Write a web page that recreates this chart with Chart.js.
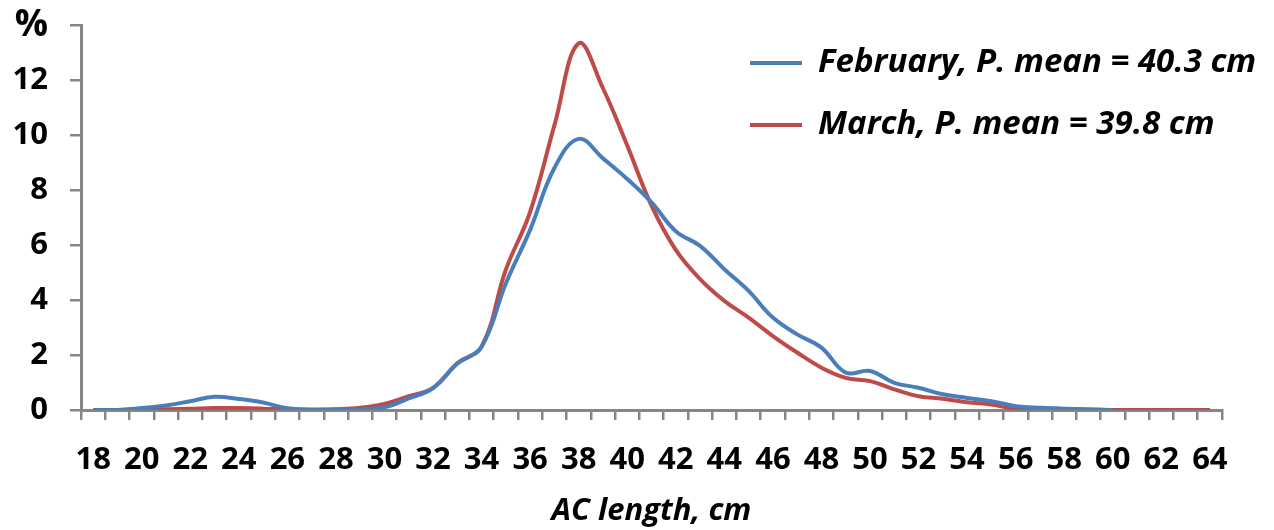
<!DOCTYPE html>
<html>
<head>
<meta charset="utf-8">
<title>AC length distribution</title>
<script src="https://cdn.jsdelivr.net/npm/chart.js@4"></script>
<style>
    html, body { margin: 0; padding: 0; background: #fff; }
    #wrap { position: relative; width: 1274px; height: 530px; }
</style>
</head>
<body>
<div id="wrap"><canvas id="lengthChart" width="1274" height="530"></canvas></div>
<script>
// AC length classes, cm
const lengths = [18, 19, 20, 21, 22, 23, 24, 25, 26, 27, 28, 29, 30, 31, 32, 33, 34, 35, 36, 37, 38, 39, 40,
    41, 42, 43, 44, 45, 46, 47, 48, 49, 50, 51, 52, 53, 54, 55, 56, 57, 58, 59, 60, 61, 62, 63, 64];

// % of catch per length class (null = no data)
const february = [0, 0, 0.07, 0.16, 0.32, 0.48, 0.4, 0.27, 0.06, 0, 0.02, 0.03, 0.1, 0.42, 0.8, 1.68, 2.3,
    4.6, 6.55, 8.8, 9.86, 9.15, 8.4, 7.55, 6.5, 5.97, 5.12, 4.33, 3.36, 2.75, 2.27, 1.36, 1.42, 0.99, 0.81,
    0.57, 0.44, 0.32, 0.14, 0.08, 0.05, 0.02, 0, null, null, null, null];
const march = [null, 0, 0.02, 0.03, 0.05, 0.07, 0.07, 0.05, 0.02, 0.02, 0.03, 0.08, 0.22, 0.5, 0.8, 1.7, 2.3,
    5.1, 7.2, 10.35, 13.33, 11.7, 9.62, 7.43, 5.82, 4.76, 3.97, 3.36, 2.69, 2.09, 1.54, 1.17, 1.05, 0.75, 0.5,
    0.41, 0.28, 0.2, 0.04, 0.03, 0.03, 0.02, 0, 0, 0, 0, 0];

// x labels shown every 2 cm
const xTickLabels = [18, 20, 22, 24, 26, 28, 30, 32, 34, 36, 38, 40, 42, 44, 46, 48, 50, 52, 54, 56, 58, 60, 62, 64];
const seriesNames = ['February, P. mean = 40.3 cm', 'March, P. mean = 39.8 cm'];

const axisGrey = '#868686';
const fontFamily = '"Open Sans", "DejaVu Sans", sans-serif';

// Legend drawn inside the plot, top right
const insideLegend = {
    id: 'insideLegend',
    afterDraw(chart) {
        const ctx = chart.ctx;
        const rows = [63, 125];
        ctx.save();
        chart.data.datasets.forEach((ds, i) => {
            const y = rows[i];
            ctx.strokeStyle = ds.borderColor;
            ctx.lineWidth = 4;
            ctx.beginPath();
            ctx.moveTo(750, y);
            ctx.lineTo(802, y);
            ctx.stroke();
            ctx.fillStyle = '#000';
            ctx.font = 'italic bold 33px ' + fontFamily;
            ctx.textBaseline = 'middle';
            ctx.textAlign = 'left';
            ctx.fillText(ds.label, 818, y);
        });
        ctx.restore();
    }
};

const ctx = document.getElementById('lengthChart');
new Chart(ctx, {
    type: 'line',
    data: {
        labels: lengths,
        datasets: [{
            label: seriesNames[0],
            data: february,
            borderColor: '#4A7EBB',
            borderWidth: 4,
            pointRadius: 0,
            tension: 0.4,
            fill: false
        }, {
            label: seriesNames[1],
            data: march,
            borderColor: '#BE4B48',
            borderWidth: 4,
            pointRadius: 0,
            tension: 0.4,
            fill: false
        }]
    },
    options: {
        responsive: false,
        animation: false,
        layout: {
            padding: { left: 0, top: 25, right: 52, bottom: 0 }
        },
        plugins: {
            legend: { display: false },
            tooltip: { enabled: false }
        },
        scales: {
            x: {
                offset: true,
                afterFit: (scale) => { scale.height = 120; },
                border: { color: axisGrey, width: 3 },
                grid: {
                    offset: true,
                    drawOnChartArea: false,
                    color: axisGrey,
                    lineWidth: 2.5,
                    tickLength: 10
                },
                ticks: {
                    autoSkip: false,
                    maxRotation: 0,
                    padding: 22,
                    color: '#000',
                    font: { family: fontFamily, size: 31, weight: 'bold' },
                    callback: function (value) {
                        const v = lengths[value];
                        return xTickLabels.includes(v) ? String(v) : '';
                    }
                },
                title: {
                    display: true,
                    text: 'AC length, cm',
                    color: '#000',
                    padding: { top: 0, bottom: 0 },
                    font: { family: fontFamily, size: 31, weight: 'bold', style: 'italic' }
                }
            },
            y: {
                min: 0,
                max: 14,
                afterFit: (scale) => {
                    scale.width = 81;
                    scale.paddingTop = 0;
                },
                border: { color: axisGrey, width: 3 },
                grid: {
                    drawOnChartArea: false,
                    color: axisGrey,
                    lineWidth: 2.5,
                    tickLength: 11
                },
                ticks: {
                    stepSize: 2,
                    padding: 22,
                    color: '#000',
                    font: (c) => ({
                        family: fontFamily,
                        size: c.tick && c.tick.value === 14 ? 37 : 31,
                        weight: 'bold'
                    }),
                    callback: (value) => value === 14 ? '%' : value
                }
            }
        }
    },
    plugins: [insideLegend]
});
</script>
</body>
</html>
